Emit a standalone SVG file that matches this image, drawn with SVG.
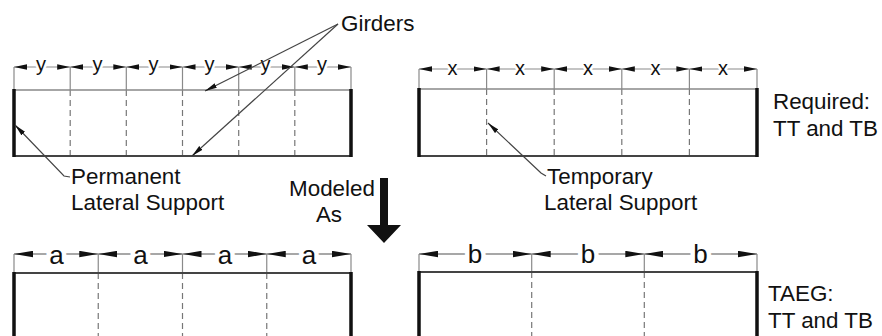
<svg xmlns="http://www.w3.org/2000/svg" width="882" height="336" viewBox="0 0 882 336">
<style>
  text { font-family: "Liberation Sans", Arial, sans-serif; fill: #111; }
  .lbl { font-size: 22.4px; }
  .dimt { font-size: 20px; text-anchor: middle; paint-order: stroke; stroke: #fff; stroke-width: 5px; stroke-linejoin: round; }
  .dimT { font-size: 26px; text-anchor: middle; paint-order: stroke; stroke: #fff; stroke-width: 9px; stroke-linejoin: round; }
  .dim { stroke: #8a8a8a; stroke-width: 1.2; fill: none; marker-start: url(#ds); marker-end: url(#ds); }
  .dimB { stroke: #8a8a8a; stroke-width: 1.3; fill: none; marker-start: url(#db); marker-end: url(#db); }
  .ext { stroke: #8a8a8a; stroke-width: 1.2; fill: none; }
  .topl { stroke: #888; stroke-width: 1.4; fill: none; }
  .botl { stroke: #444; stroke-width: 2; fill: none; }
  .side { stroke: #111; stroke-width: 3.5; fill: none; }
  .dash { stroke: #777; stroke-width: 1.2; stroke-dasharray: 6 4; fill: none; }
  .lead { stroke: #444; stroke-width: 1.2; fill: none; }
</style>
<defs>
  <marker id="ds" markerUnits="userSpaceOnUse" viewBox="0 0 13 6" markerWidth="13" markerHeight="6" refX="13" refY="3" orient="auto-start-reverse">
    <path d="M0,0.3 L13,3 L0,5.7 z" fill="#111"/>
  </marker>
  <marker id="db" markerUnits="userSpaceOnUse" viewBox="0 0 19 7" markerWidth="19" markerHeight="7" refX="19" refY="3.5" orient="auto-start-reverse">
    <path d="M0,0.3 L19,3.5 L0,6.7 z" fill="#111"/>
  </marker>
  <marker id="la" markerUnits="userSpaceOnUse" viewBox="0 0 12 6" markerWidth="12" markerHeight="6" refX="12" refY="3" orient="auto">
    <path d="M0,0.5 L12,3 L0,5.5 z" fill="#111"/>
  </marker>
</defs>

<!-- Top-left panel: permanent supports with y spacing -->
<g id="panel-top-left">
  <path class="ext" d="M14,67 V90 M70.2,67 V90 M126.3,67 V90 M182.5,67 V90 M238.7,67 V90 M294.8,67 V90 M351,67 V90"/>
  <path class="dash" d="M70.2,90 V156 M126.3,90 V156 M182.5,90 V156 M238.7,90 V156 M294.8,90 V156"/>
  <line class="topl" x1="14" y1="90" x2="351" y2="90"/>
  <line class="botl" x1="14" y1="156" x2="351" y2="156"/>
  <path class="side" d="M14,89 V157 M351,89 V157"/>
  <line class="dim" x1="14" y1="67" x2="70.2" y2="67"/>
  <line class="dim" x1="70.2" y1="67" x2="126.3" y2="67"/>
  <line class="dim" x1="126.3" y1="67" x2="182.5" y2="67"/>
  <line class="dim" x1="182.5" y1="67" x2="238.7" y2="67"/>
  <line class="dim" x1="238.7" y1="67" x2="294.8" y2="67"/>
  <line class="dim" x1="294.8" y1="67" x2="351" y2="67"/>
  <text class="dimt" x="41" y="71">y</text>
  <text class="dimt" x="97.5" y="71">y</text>
  <text class="dimt" x="153.5" y="71">y</text>
  <text class="dimt" x="209.5" y="71">y</text>
  <text class="dimt" x="265.5" y="71">y</text>
  <text class="dimt" x="322" y="71">y</text>
</g>

<!-- Top-right panel: temporary supports with x spacing -->
<g id="panel-top-right">
  <path class="ext" d="M419,69 V89 M486.6,69 V89 M554.2,69 V89 M621.8,69 V89 M689.4,69 V89 M757,69 V89"/>
  <path class="dash" d="M486.6,89 V156 M554.2,89 V156 M621.8,89 V156 M689.4,89 V156"/>
  <line class="topl" x1="419" y1="89" x2="757" y2="89"/>
  <line class="botl" x1="419" y1="156" x2="757" y2="156"/>
  <path class="side" d="M419,88 V157 M757,88 V157"/>
  <line class="dim" x1="419" y1="69" x2="486.6" y2="69"/>
  <line class="dim" x1="486.6" y1="69" x2="554.2" y2="69"/>
  <line class="dim" x1="554.2" y1="69" x2="621.8" y2="69"/>
  <line class="dim" x1="621.8" y1="69" x2="689.4" y2="69"/>
  <line class="dim" x1="689.4" y1="69" x2="757" y2="69"/>
  <text class="dimt" x="452.5" y="74.5">x</text>
  <text class="dimt" x="520" y="74.5">x</text>
  <text class="dimt" x="588" y="74.5">x</text>
  <text class="dimt" x="655.5" y="74.5">x</text>
  <text class="dimt" x="723" y="74.5">x</text>
  <text class="lbl" x="773" y="109">Required:</text>
  <text class="lbl" x="773" y="136">TT and TB</text>
</g>

<!-- Bottom-left panel: modeled with a spacing -->
<g id="panel-bottom-left">
  <path class="ext" d="M14,254 V273 M98.25,254 V273 M182.5,254 V273 M266.75,254 V273 M351,254 V273"/>
  <path class="dash" d="M98.25,273 V340 M182.5,273 V340 M266.75,273 V340"/>
  <line class="botl" x1="14" y1="273" x2="351" y2="273"/>
  <path class="side" d="M14,272 V340 M351,272 V340"/>
  <line class="dimB" x1="14" y1="254" x2="98.25" y2="254"/>
  <line class="dimB" x1="98.25" y1="254" x2="182.5" y2="254"/>
  <line class="dimB" x1="182.5" y1="254" x2="266.75" y2="254"/>
  <line class="dimB" x1="266.75" y1="254" x2="351" y2="254"/>
  <text class="dimT" x="56.5" y="263.5">a</text>
  <text class="dimT" x="140.5" y="263.5">a</text>
  <text class="dimT" x="225" y="263.5">a</text>
  <text class="dimT" x="309" y="263.5">a</text>
</g>

<!-- Bottom-right panel: modeled with b spacing -->
<g id="panel-bottom-right">
  <path class="ext" d="M419,254 V272 M531.7,254 V272 M644.3,254 V272 M757,254 V272"/>
  <path class="dash" d="M531.7,272 V340 M644.3,272 V340"/>
  <line class="botl" x1="419" y1="272" x2="757" y2="272"/>
  <path class="side" d="M419,271 V340 M757,271 V340"/>
  <line class="dimB" x1="419" y1="254" x2="531.7" y2="254"/>
  <line class="dimB" x1="531.7" y1="254" x2="644.3" y2="254"/>
  <line class="dimB" x1="644.3" y1="254" x2="757" y2="254"/>
  <text class="dimT" x="475" y="263">b</text>
  <text class="dimT" x="588" y="263">b</text>
  <text class="dimT" x="700.5" y="263">b</text>
  <text class="lbl" x="768" y="301">TAEG:</text>
  <text class="lbl" x="768" y="328">TT and TB</text>
</g>

<!-- Labels -->
<g id="label-girders">
  <text class="lbl" x="341" y="31">Girders</text>
</g>
<g id="label-permanent">
  <text class="lbl" x="71" y="184">Permanent</text>
  <text class="lbl" x="71" y="210">Lateral Support</text>
</g>
<g id="label-temporary">
  <text class="lbl" x="547" y="184">Temporary</text>
  <text class="lbl" x="544" y="210">Lateral Support</text>
</g>
<g id="modeled-as">
  <text class="lbl" x="332" y="196" text-anchor="middle">Modeled</text>
  <text class="lbl" x="329" y="222" text-anchor="middle">As</text>
  <polygon points="380,178 388,178 388,225 401,225 384,243 367,225 380,225" fill="#111"/>
</g>

<!-- Connectors (leaders) -->
<g id="connectors">
  <polyline class="lead" points="338,24 205,91" marker-end="url(#la)"/>
  <polyline class="lead" points="338,24 192,156" marker-end="url(#la)"/>
  <polyline class="lead" points="70,177 64,176 15,125" marker-end="url(#la)"/>
  <polyline class="lead" points="546,176 541,173 488,123" marker-end="url(#la)"/>
</g>
</svg>
